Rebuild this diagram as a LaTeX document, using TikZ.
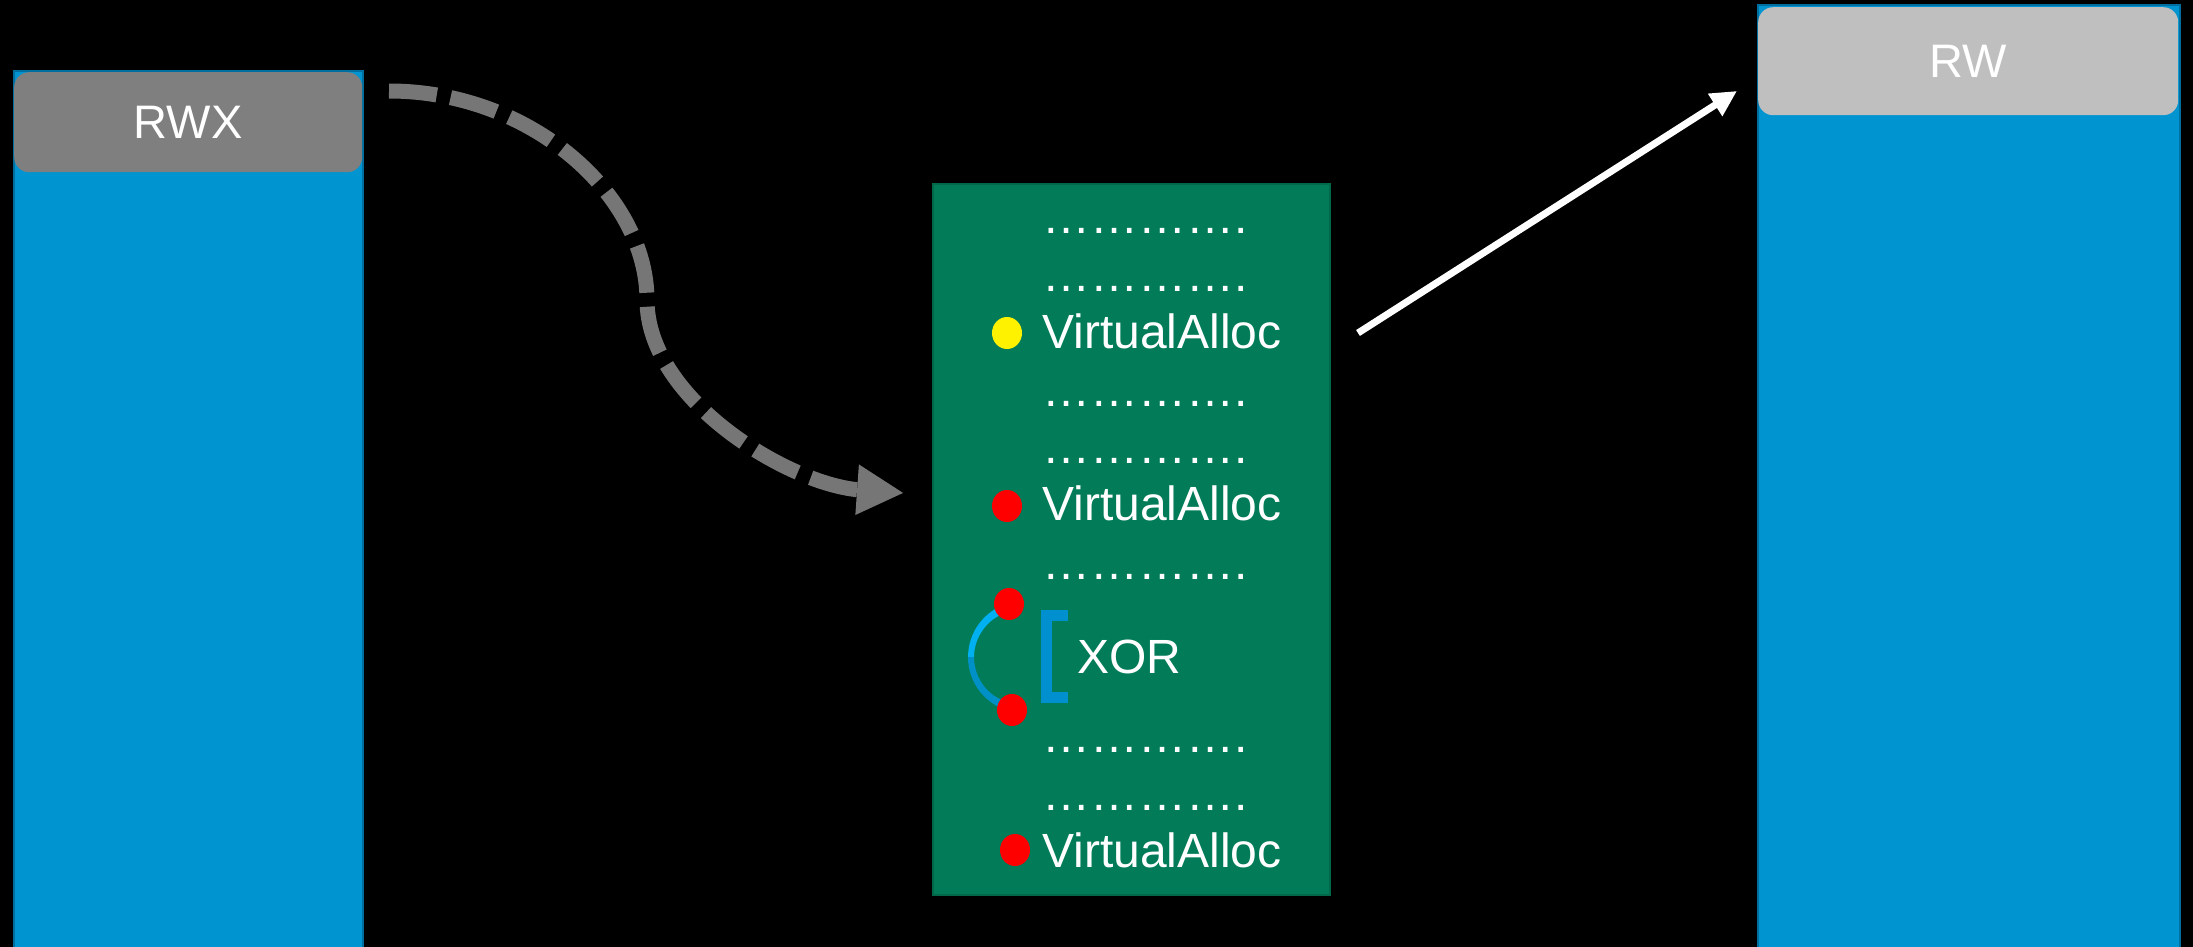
\documentclass[tikz,border=0pt]{standalone}
\usepackage{fontspec}
\setmainfont{Liberation Sans}
\usetikzlibrary{arrows.meta,shapes.geometric}
\definecolor{colblue}{HTML}{0094D0}
\definecolor{colblueedge}{HTML}{006E9E}
\definecolor{rwxgray}{HTML}{7F7F7F}
\definecolor{rwgray}{HTML}{BFBFBF}
\definecolor{codegreen}{HTML}{027C58}
\definecolor{codegreenedge}{HTML}{01694A}
\definecolor{dashgray}{HTML}{767676}
\definecolor{arclight}{HTML}{00B0F0}
\definecolor{arcdark}{HTML}{0090C8}
\definecolor{bracketblue}{HTML}{0090D0}
\begin{document}
\begin{tikzpicture}[x=1pt,y=-1pt,
  column/.style={draw=colblueedge, line width=2pt, fill=colblue, anchor=north west, inner sep=0pt},
  permbox/.style={rounded corners=15pt, anchor=north west, inner sep=0pt, text=white, font=\fontsize{47}{56}\selectfont},
  codebox/.style={draw=codegreenedge, line width=2pt, fill=codegreen, anchor=north west, inner sep=0pt},
  codetext/.style={anchor=base west, inner sep=0pt, text=white, font=\fontsize{48}{58}\selectfont},
  marker/.style={ellipse, inner sep=0pt, minimum width=30pt, minimum height=32pt},
]
\useasboundingbox (0,0) rectangle (2193,947);
\fill[black] (0,0) rectangle (2193,947);

% left column with RWX
\node[column, minimum width=349pt, minimum height=900pt] (leftcol) at (13,70) {};
\node[permbox, fill=rwxgray, minimum width=348pt, minimum height=100pt] (rwx) at (14,72) {RWX};

% right column with RW
\node[column, minimum width=422pt, minimum height=960pt] (rightcol) at (1757,4) {};
\node[permbox, fill=rwgray, minimum width=420pt, minimum height=108pt] (rw) at (1758,7) {RW};

% code box
\node[codebox, minimum width=397pt, minimum height=711pt] (code) at (932,183) {};

\node[codetext] (d1) at (1042,233) {………….};
\node[codetext] (d2) at (1042,291) {………….};
\node[codetext] (va1) at (1042,348) {VirtualAlloc};
\node[codetext] (d3) at (1042,406) {………….};
\node[codetext] (d4) at (1042,463) {………….};
\node[codetext] (va2) at (1042,520) {VirtualAlloc};
\node[codetext] (d5) at (1042,579) {………….};
\node[codetext] (xor) at (1077,673) {XOR};
\node[codetext] (d6) at (1042,752) {………….};
\node[codetext] (d7) at (1042,810) {………….};
\node[codetext] (va3) at (1042,867) {VirtualAlloc};

% bracket
\draw[bracketblue, line width=11pt] (1068,615) -- (1046.5,615) -- (1046.5,697) -- (1068,697);

% markers
\node[marker, fill=yellow] (m1) at (1007,333) {};
\node[marker, fill=red] (m2) at (1007,506) {};
\coordinate (mtop) at (1008.6,603.2);
\coordinate (mbot) at (1011.4,711.6);
\coordinate (mleft) at (968,657);
\node[marker, fill=red] (m3) at (1015,850) {};

% crescent between XOR markers
\fill[arclight] (mtop) arc[start angle=106, end angle=180, radius=56pt]
  -- (974,657) .. controls (974,637) and (988,618) .. (1006,613) -- cycle;
\fill[arcdark] (mleft) arc[start angle=180, end angle=257, radius=56pt]
  -- (1008,702) .. controls (988,697) and (974,678) .. (974,657) -- cycle;
\node[marker, fill=red] (x1) at (1009,604) {};
\node[marker, fill=red] (x2) at (1012,710) {};

% dashed arrow
\coordinate (dstart) at (389,91);
\coordinate (dend) at (904,493);
\draw[dashgray, line width=15pt, dash pattern=on 48pt off 14pt, -{Triangle[length=47pt,width=47pt]}]
  (dstart) .. controls (531,91) and (647,195) .. (647,300) .. controls (647,400) and (790,485) .. (dend);

% white arrow
\coordinate (wstart) at (1358,333);
\coordinate (wend) at (1737,91);
\draw[white, line width=7pt, -{Triangle[length=26pt,width=25pt]}] (wstart) -- (wend);
\end{tikzpicture}
\end{document}
